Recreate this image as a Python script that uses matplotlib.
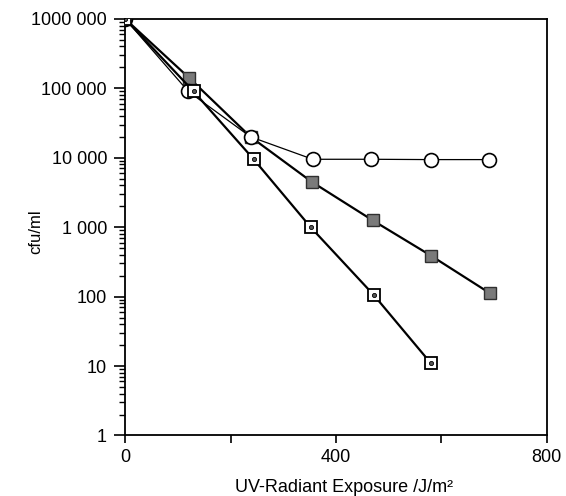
import matplotlib.pyplot as plt
from matplotlib.ticker import FixedLocator, NullFormatter

# ----------------------------
# Data
# ----------------------------
x_circle = [0, 120, 238, 356, 467, 580, 690]
cfu_circle = [1000000, 90000, 20000, 9500, 9500, 9400, 9400]

x_filled = [0, 122, 238, 354, 470, 580, 692]
cfu_filled = [1000000, 140000, 20000, 4500, 1250, 390, 112]

x_dotted = [0, 130, 244, 352, 472, 580]
cfu_dotted = [1000000, 90000, 9500, 1000, 105, 11]

y_ticks = [1, 10, 100, 1000, 10000, 100000, 1000000]
y_tick_labels = ["1", "10", "100", "1 000", "10 000", "100 000", "1000 000"]
x_ticks = [0, 400, 800]
x_minor_ticks = [200, 600]

plt.rcParams['font.family'] = ['Liberation Sans', 'DejaVu Sans']

fig = plt.figure(figsize=(5.66, 4.96), dpi=100)
ax = fig.add_axes([0.221, 0.122, 0.745, 0.840])

# ----------------------------
# Series
# ----------------------------
ax.plot(x_filled, cfu_filled, color='black', lw=1.6, marker='s', ms=8,
        mfc='#7a7a7a', mec='#303030', mew=1.0, zorder=3)
ax.plot(x_circle, cfu_circle, color='black', lw=0.9, marker='o', ms=10,
        mfc='white', mec='black', mew=1.2, zorder=4)
ax.plot(x_dotted, cfu_dotted, color='black', lw=1.6, marker='s', ms=8,
        mfc='white', mec='black', mew=1.3, zorder=5)
ax.plot(x_dotted, cfu_dotted, ls='none', marker='o', ms=3,
        mfc='#555555', mec='black', mew=0.6, zorder=6)

# ----------------------------
# Axes
# ----------------------------
ax.set_yscale('log')
ax.set_ylim(1, 1000000)
ax.set_xlim(0, 800)

ax.yaxis.set_major_locator(FixedLocator(y_ticks))
ax.set_yticklabels(y_tick_labels)
ax.yaxis.set_minor_locator(FixedLocator(
    [m * 10 ** e for e in range(6) for m in range(2, 10)]))
ax.yaxis.set_minor_formatter(NullFormatter())

ax.xaxis.set_major_locator(FixedLocator(x_ticks))
ax.xaxis.set_minor_locator(FixedLocator(x_minor_ticks))

ax.tick_params(axis='y', which='major', direction='out', length=8, width=1.2,
               labelsize=13, pad=5)
ax.tick_params(axis='y', which='minor', direction='out', length=4, width=1.0)
ax.tick_params(axis='x', which='both', direction='out', length=6, width=1.2,
               labelsize=13, pad=4)

for side in ['left', 'right', 'top', 'bottom']:
    ax.spines[side].set_linewidth(1.3)

ax.set_xlabel("UV-Radiant Exposure /J/m²", fontsize=13)
ax.xaxis.set_label_coords(0.52, -0.105)
ax.set_ylabel("cfu/ml", fontsize=12)
ax.yaxis.set_label_coords(-0.195, 0.49)

fig.savefig("out.png", dpi=100)
